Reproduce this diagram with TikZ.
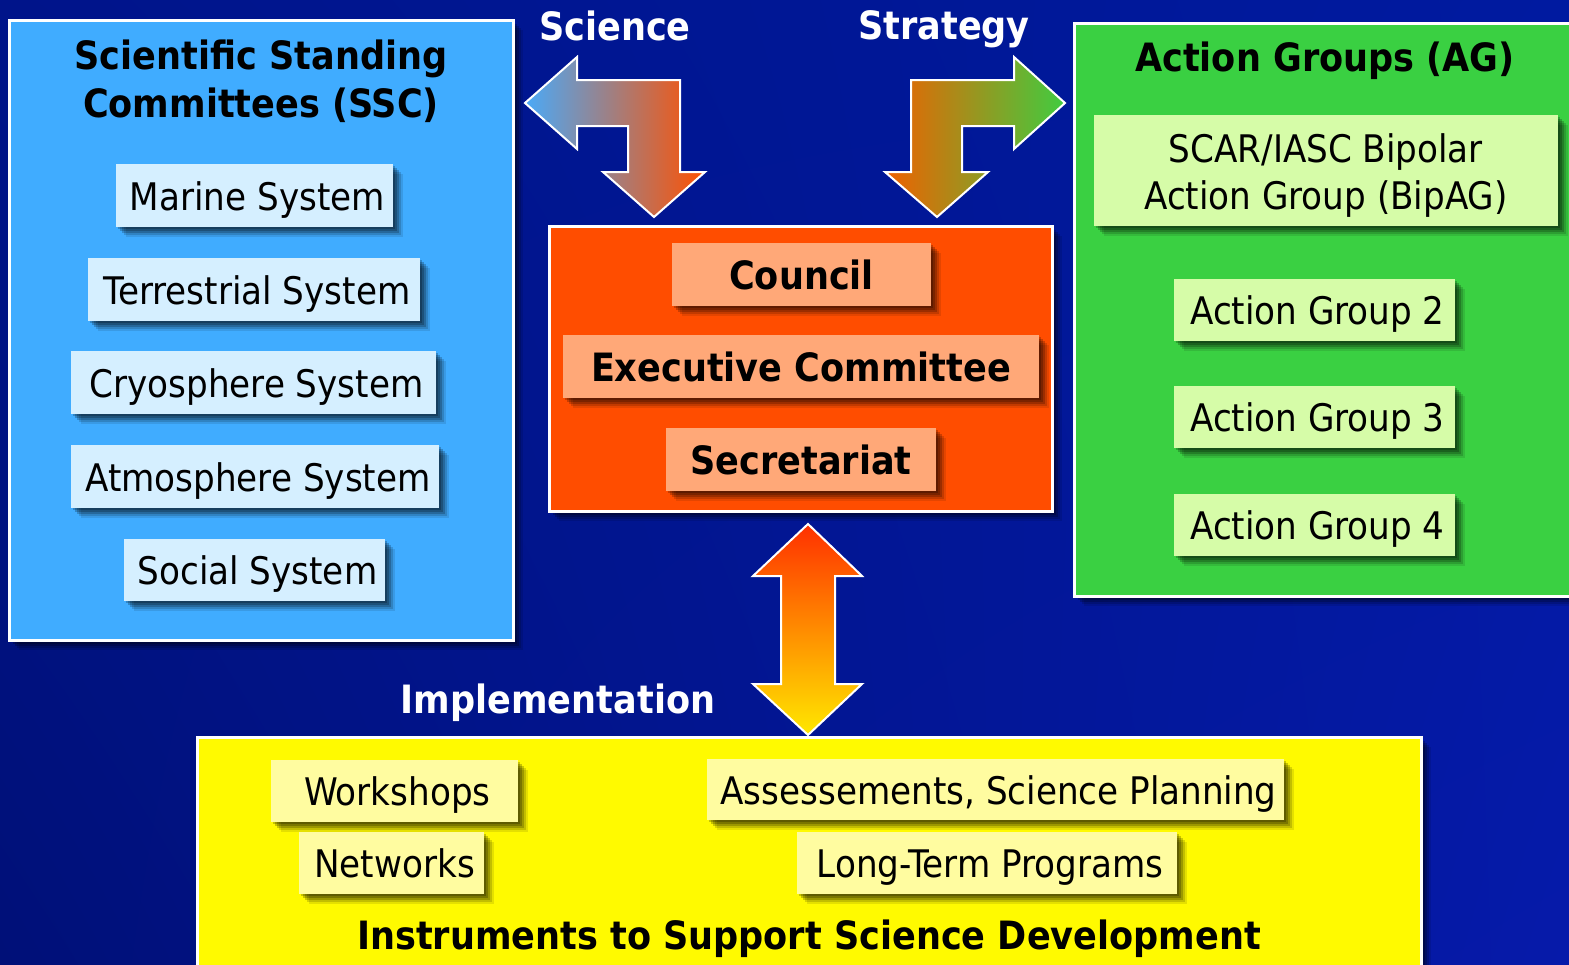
\documentclass[tikz,border=0pt]{standalone}
\usepackage{fontspec}
\setmainfont{DejaVu Sans Condensed}
\usetikzlibrary{shadows,shadings}
\definecolor{bgTL}{RGB}{0,20,138}
\definecolor{bgTR}{RGB}{0,26,160}
\definecolor{bgBL}{RGB}{0,16,120}
\definecolor{bgBR}{RGB}{6,26,170}
\definecolor{sscblue}{RGB}{64,172,255}
\definecolor{lightblue}{RGB}{213,239,255}
\definecolor{execorange}{RGB}{255,77,0}
\definecolor{peach}{RGB}{255,168,120}
\definecolor{aggreen}{RGB}{58,208,66}
\definecolor{lightgreen}{RGB}{214,252,168}
\definecolor{instyellow}{RGB}{255,250,0}
\definecolor{lightyellow}{RGB}{255,252,160}
\definecolor{arrblue}{RGB}{74,170,248}
\definecolor{arrmid}{RGB}{200,110,120}
\definecolor{arrorange}{RGB}{255,80,0}
\definecolor{arrorange2}{RGB}{240,96,0}
\definecolor{arrolive}{RGB}{210,118,14}
\definecolor{arrgreen}{RGB}{64,204,64}
\definecolor{arrred}{RGB}{255,48,0}
\definecolor{arryellow}{RGB}{255,232,0}
\begin{document}
\begin{tikzpicture}[x=0.5pt,y=-0.5pt,
  every node/.style={inner sep=0pt, outer sep=0pt},
  sz/.style 2 args={minimum width=#1*0.5pt, minimum height=#2*0.5pt},
  softshadow/.style={
    drop shadow={shadow xshift=1.2pt, shadow yshift=-1.2pt, opacity=0.22, fill=black},
    drop shadow={shadow xshift=2.2pt, shadow yshift=-2.2pt, opacity=0.22, fill=black},
    drop shadow={shadow xshift=3.2pt, shadow yshift=-3.2pt, opacity=0.2, fill=black},
    drop shadow={shadow xshift=4.2pt, shadow yshift=-4.2pt, opacity=0.15, fill=black},
    drop shadow={shadow xshift=5.2pt, shadow yshift=-5.2pt, opacity=0.1, fill=black}},
  bigbox/.style={draw=white, line width=1.5pt, softshadow},
  inboxm/.style={font=\fontsize{19}{23.5}\selectfont, align=center, softshadow},
  inbox/.style={inboxm, text height=14.8pt, text depth=0pt},
  inboxb/.style={inboxm, font=\fontsize{19.5}{23.5}\selectfont\bfseries, text height=15.4pt, text depth=0pt},
  titlem/.style={font=\fontsize{19.5}{24}\selectfont\bfseries, align=center, text=black},
  title/.style={titlem, text height=14.2pt, text depth=0pt},
  lbl/.style={font=\fontsize{19.5}{24}\selectfont\bfseries, text=white, text height=14.2pt, text depth=0pt},
  blockarrow/.style={draw=white, line width=1pt, line join=miter}
]
\useasboundingbox (0,0) rectangle (1569,964);
\shade[upper left=bgTL, upper right=bgTR, lower left=bgBL, lower right=bgBR] (0,0) rectangle (1569,964);

% Scientific Standing Committees
\node[bigbox, fill=sscblue, sz={504}{620}] (ssc) at (261,330) {};
\node[titlem] (ssct) at (261,81) {Scientific Standing\\Committees (SSC)};
\node[inbox, fill=lightblue, sz={277}{63}] (marine) at (254.5,195.5) {\hspace*{3pt}Marine System};
\node[inbox, fill=lightblue, sz={332}{63}] (terr) at (254,289.5) {\hspace*{3pt}Terrestrial System};
\node[inbox, fill=lightblue, sz={365}{63}] (cryo) at (253.5,382.5) {\hspace*{3pt}Cryosphere System};
\node[inbox, fill=lightblue, sz={368}{63}] (atmo) at (255,476.5) {\hspace*{3pt}Atmosphere System};
\node[inbox, fill=lightblue, sz={261}{62}] (social) at (254.5,570) {\hspace*{3pt}Social System};

% Central executive box
\node[bigbox, fill=execorange, sz={503}{285}] (exec) at (800.5,368.5) {};
\node[inboxb, fill=peach, sz={259}{63}] (council) at (801.5,274.5) {Council};
\node[inboxb, fill=peach, sz={476}{63}] (excom) at (801,366.5) {Executive Committee};
\node[inboxb, fill=peach, sz={270}{63}] (secr) at (801,459.5) {Secretariat};

% Action groups
\node[bigbox, fill=aggreen, sz={506}{573}] (ag) at (1327,309.5) {};
\node[title] (agt) at (1325,57.5) {Action Groups (AG)};
\node[inboxm, fill=lightgreen, sz={464}{111}] (bipag) at (1326,170.5) {\rule{0pt}{19.2pt}SCAR/IASC Bipolar\\Action Group (BipAG)};
\node[inbox, fill=lightgreen, sz={281}{62}] (ag2) at (1314.5,310) {\hspace*{3pt}Action Group 2};
\node[inbox, fill=lightgreen, sz={281}{62}] (ag3) at (1314.5,417) {\hspace*{3pt}Action Group 3};
\node[inbox, fill=lightgreen, sz={281}{62}] (ag4) at (1314.5,525) {\hspace*{3pt}Action Group 4};

% Instruments
\node[bigbox, fill=instyellow, sz={1224}{240}] (inst) at (809,857) {};
\node[inbox, fill=lightyellow, sz={247}{62}] (work) at (394.5,791) {\hspace*{3pt}Workshops};
\node[inbox, fill=lightyellow, sz={185}{62}] (netw) at (391.5,863) {\hspace*{3pt}Networks};
\node[inbox, fill=lightyellow, sz={577}{61}] (assess) at (995.5,789.5) {\hspace*{3pt}Assessements, Science Planning};
\node[inbox, fill=lightyellow, sz={380}{62}] (ltp) at (987,863) {\hspace*{3pt}Long-Term Programs};
\node[title] (instt) at (809,935.5) {Instruments to Support Science Development};

% Labels
\node[lbl] (scil) at (615,26) {Science};
\node[lbl] (strl) at (944,25) {Strategy};
\node[lbl] (impl) at (558,699) {Implementation};

% Block arrows
\shade[blockarrow, left color=arrblue, middle color=arrmid, right color=arrorange]
  (525,103) -- (577,57) -- (577,80) -- (680,80) -- (680,172) -- (705,172) -- (654,217)
  -- (603,172) -- (628,172) -- (628,126) -- (577,126) -- (577,149) -- cycle;
\shade[blockarrow, left color=arrorange2, middle color=arrolive, right color=arrgreen]
  (1065,103) -- (1014,57) -- (1014,80) -- (911,80) -- (911,172) -- (885,172) -- (937,217)
  -- (988,172) -- (962,172) -- (962,126) -- (1014,126) -- (1014,149) -- cycle;
\shade[blockarrow, top color=arrred, bottom color=arryellow]
  (808,524) -- (862,576) -- (835,576) -- (835,684) -- (862,684) -- (808,735)
  -- (753,684) -- (781,684) -- (781,576) -- (753,576) -- cycle;
\end{tikzpicture}
\end{document}
